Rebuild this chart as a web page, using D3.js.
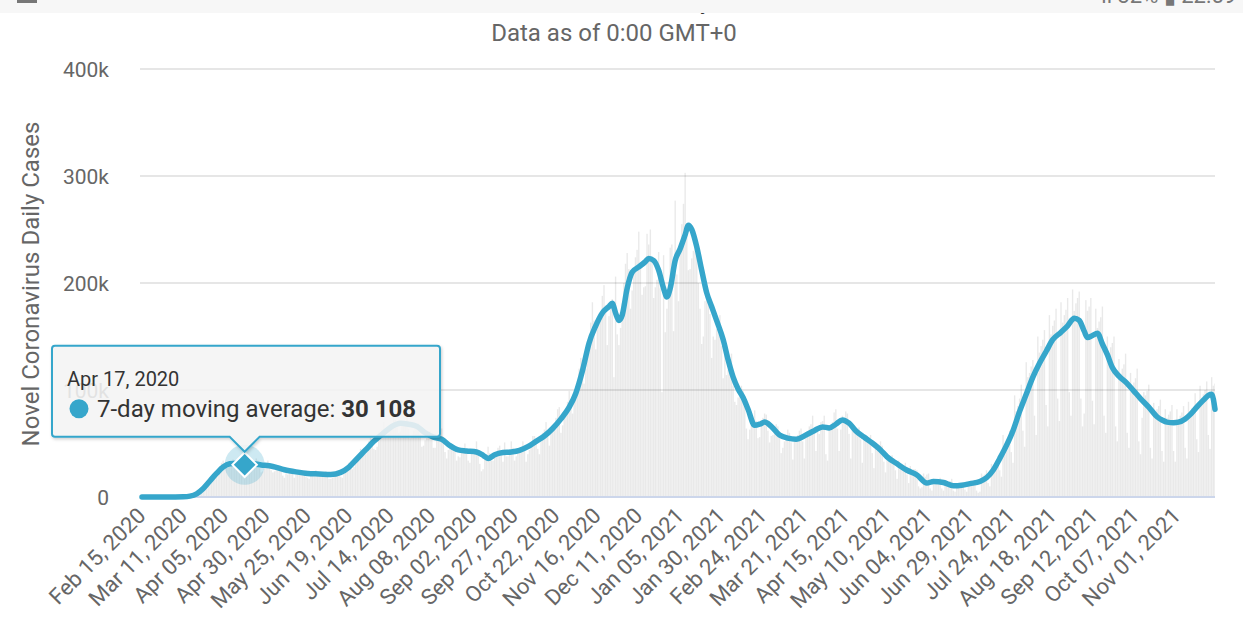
<!DOCTYPE html>
<html>
<head>
<meta charset="utf-8">
<script src="https://cdn.jsdelivr.net/npm/d3@7/dist/d3.min.js"></script>
<style>
  body { margin: 0; background: #fff; }
  svg { font-family: Roboto, 'Noto Sans', sans-serif; display: block; }
</style>
</head>
<body>
<svg id="chart" width="1243" height="634"></svg>
<script>
// daily new cases (thousands), one row per week, first day Sat 2020-02-15
const startDate = '2020-02-15'
const dailyCases = [
  0,0,0,0,0,0,0, 0,0,0,0,0,0,0, 0,0,0,0,0,0.1,0.1, 0.1,0.1,0.2,0.2,0.3,0.4,0.6,
  0.7,0.8,1,1.3,2,3.5,5, 6.5,8,9.5,10,12,17,18.5, 19.5,19,20,25,26,29,32, 34,26,29,29,31,33,35,
  31,27,26,26,29,31,32, 29,26,26,25,29,31,36, 34,27,23,24,27,29,34, 29,25,23,24,25,29,27,
  25,20,18,22,21,26,25, 24,18,21,21,21,22,25, 23,19,18,17,20,21,24, 25,20,20,21,19,21,24,
  22,17,17,18,21,23,24, 25,19,18,22,25,28,32, 33,26,28,34,37,39,45, 43,40,40,47,52,55,54,
  45,44,47,61,60,63,70, 63,58,59,65,67,76,72, 65,60,61,66,70,69,74, 64,55,56,62,67,66,69,
  58,47,48,53,55,58,62, 56,46,46,54,55,53,64, 51,42,36,44,47,45,48, 46,34,38,37,42,45,50,
  44,34,32,41,40,45,52, 43,31,24,26,35,38,47, 41,34,34,38,39,46,48, 44,33,51,38,38,44,52,
  46,34,38,45,41,46,52, 48,33,40,44,51,57,57, 52,45,40,52,60,63,70, 58,48,60,63,63,74,82,
  84,60,67,73,79,89,99, 83,78,89,92,106,120,130, 128,106,120,140,145,163,182, 165,138,159,162,173,188,198,
  179,142,169,178,185,112,206, 152,142,158,181,200,218,228, 213,176,193,211,224,231,248, 219,189,196,197,246,236,250,
  221,186,196,203,229,195,98, 226,154,176,201,233,236,155, 277,208,183,235,255,274,303, 256,212,213,223,230,235,240,
  200,176,143,150,183,190,189, 171,130,150,147,157,165,170, 141,111,134,114,119,123,134, 104,89,86,93,95,104,99,
  86,64,54,63,69,72,81, 71,55,56,72,74,78,77, 62,51,57,58,66,68,66, 58,41,46,52,58,63,60,
  51,35,53,54,58,62,64, 52,36,55,56,66,68,76, 62,43,66,59,70,71,76, 40,34,67,66,70,79,82,
  64,43,63,76,73,80,78, 59,36,66,61,65,64,65, 54,32,55,52,57,56,58, 41,27,51,43,47,52,48,
  33,23,41,35,37,39,36, 25,17,34,28,31,30,32, 21,13,29,23,26,26,25, 10,8,9,22,19,21,22,
  8,6,17,15,16,16,18, 8,6,16,14,14,15,17, 6,5,13,11,12,12,14, 7,5,14,13,14,15,16,
  6,4,5,22,20,21,25, 13,10,31,27,29,32,36, 25,19,58,48,51,55,62, 42,32,95,80,85,92,105,
  62,47,126,112,116,122,128, 76,58,150,135,141,147,156, 86,66,170,152,160,165,176, 92,71,182,163,170,175,186,
  98,76,194,174,181,186,192, 92,66,78,184,174,178,186, 90,68,176,158,164,168,178, 76,60,150,134,140,144,150,
  66,52,129,115,120,124,134, 60,46,116,104,107,111,120, 52,40,74,98,95,99,105, 46,36,88,78,82,85,91,
  43,33,82,74,77,80,86, 43,33,82,73,76,79,85, 46,36,89,80,83,80,97, 54,42,104,93,96,100,108,
  58,45,112,104,106
]

// 7-day moving average (thousands)
const maDates = [
  '2020-02-15','2020-03-01','2020-03-11','2020-03-15','2020-03-19','2020-03-23','2020-03-27','2020-03-31',
  '2020-04-04','2020-04-08','2020-04-12','2020-04-17','2020-04-22','2020-04-27','2020-05-04','2020-05-11',
  '2020-05-18','2020-05-25','2020-06-01','2020-06-08','2020-06-14','2020-06-19','2020-06-24','2020-06-29',
  '2020-07-04','2020-07-10','2020-07-15','2020-07-20','2020-07-25','2020-07-30','2020-08-04','2020-08-09',
  '2020-08-14','2020-08-19','2020-08-24','2020-08-29','2020-09-04','2020-09-08','2020-09-11','2020-09-15',
  '2020-09-20','2020-09-25','2020-09-30','2020-10-05','2020-10-10','2020-10-15','2020-10-20','2020-10-25',
  '2020-10-30','2020-11-03','2020-11-07','2020-11-11','2020-11-15','2020-11-19','2020-11-23','2020-11-25',
  '2020-11-27','2020-11-29','2020-12-01','2020-12-04','2020-12-07','2020-12-11','2020-12-15','2020-12-17',
  '2020-12-20','2020-12-23','2020-12-26','2020-12-28','2020-12-30','2021-01-02','2021-01-05','2021-01-08',
  '2021-01-10','2021-01-12','2021-01-15','2021-01-18','2021-01-21','2021-01-24','2021-01-27','2021-01-31',
  '2021-02-03','2021-02-06','2021-02-09','2021-02-12','2021-02-15','2021-02-19','2021-02-22','2021-02-25',
  '2021-03-01','2021-03-06','2021-03-11','2021-03-16','2021-03-22','2021-03-27','2021-04-01','2021-04-05',
  '2021-04-09','2021-04-13','2021-04-17','2021-04-21','2021-04-26','2021-05-01','2021-05-06','2021-05-10',
  '2021-05-16','2021-05-22','2021-05-28','2021-06-03','2021-06-07','2021-06-13','2021-06-19','2021-06-24',
  '2021-06-29','2021-07-05','2021-07-09','2021-07-13','2021-07-17','2021-07-21','2021-07-25','2021-07-29',
  '2021-08-02','2021-08-06','2021-08-10','2021-08-14','2021-08-18','2021-08-23','2021-08-27','2021-08-31',
  '2021-09-03','2021-09-06','2021-09-08','2021-09-11','2021-09-14','2021-09-17','2021-09-20','2021-09-23',
  '2021-09-27','2021-10-02','2021-10-06','2021-10-10','2021-10-15','2021-10-20','2021-10-23','2021-10-26',
  '2021-10-30','2021-11-02','2021-11-06','2021-11-09','2021-11-13','2021-11-17','2021-11-20','2021-11-22',
  '2021-11-24'
]
const maValues = [
  0,0.01,0.2,0.8,3,8,15,22,
  28,31,31.5,30.108,31,30,28.5,25.5,
  23.5,22,21.5,21,23,28,36,44,
  52,60,66,69,68,66,60,56,
  54,48,44,43,42,39,36,39.5,
  41.5,42,43.5,47,52,57,64,73,
  84,97,118,144,160,172,178,181,
  172,165,170,195,210,215,220,223,
  221,212,195,187,195,221,232,245,
  254,250,234,212,191,178,165,147,
  128,112,101,93,82,67,68,70,
  66,58,55,54,58,62,65.5,64.5,
  68,72,69,62,56,50.5,44,37.5,
  31,25,20.5,13,14.5,13.5,10.5,11,
  12.5,14.5,18,25,36,48,62,80,
  96,112,125,136,147,154,160,167,
  165,155,149,151,153,143,133,121,
  113,106,99,92,84,75,72,70,
  69.5,70,73,77,84,90.5,95,96,
  82
]

const yTicks = [0, 100000, 200000, 300000, 400000]
const xTickLabels = [
  'Feb 15, 2020','Mar 11, 2020','Apr 05, 2020','Apr 30, 2020','May 25, 2020','Jun 19, 2020',
  'Jul 14, 2020','Aug 08, 2020','Sep 02, 2020','Sep 27, 2020','Oct 22, 2020','Nov 16, 2020',
  'Dec 11, 2020','Jan 05, 2021','Jan 30, 2021','Feb 24, 2021','Mar 21, 2021','Apr 15, 2021',
  'May 10, 2021','Jun 04, 2021','Jun 29, 2021','Jul 24, 2021','Aug 18, 2021','Sep 12, 2021',
  'Oct 07, 2021','Nov 01, 2021'
]
const tooltipDate = '2020-04-17'
const tooltipLabel = '7-day moving average'

const lineColor = '#36a6cb'
const plot = { left: 142, right: 1215, top: 69, bottom: 497 }

const parse = d3.timeParse('%Y-%m-%d')
const parseTick = d3.timeParse('%b %d, %Y')
const start = parse(startDate)

const bars = dailyCases.map((v, i) => ({ date: d3.timeDay.offset(start, i), value: v * 1000 }))
const ma = maDates.map((d, i) => ({ date: parse(d), value: maValues[i] * 1000 }))

const x = d3
  .scaleTime()
  .domain([start, bars[bars.length - 1].date])
  .range([plot.left, plot.right])

const y = d3
  .scaleLinear()
  .domain([0, 400000])
  .range([plot.bottom, plot.top])

const svg = d3.select('#chart')

const defs = svg.append('defs')
defs
  .append('clipPath')
  .attr('id', 'plotClip')
  .append('rect')
  .attr('x', plot.left)
  .attr('y', 0)
  .attr('width', plot.right - plot.left)
  .attr('height', plot.bottom + 2)

defs
  .append('filter')
  .attr('id', 'tipShadow')
  .attr('x', '-10%')
  .attr('y', '-10%')
  .attr('width', '120%')
  .attr('height', '130%')
  .append('feDropShadow')
  .attr('dx', 1)
  .attr('dy', 1.5)
  .attr('stdDeviation', 1.5)
  .attr('flood-color', '#000')
  .attr('flood-opacity', 0.2)

// partly hidden chart title under the top bar
svg
  .append('text')
  .attr('x', 621)
  .attr('y', 9)
  .attr('text-anchor', 'middle')
  .attr('font-size', 24)
  .attr('fill', '#333')
  .text('Novel Coronavirus Daily Cases')

svg
  .append('rect')
  .attr('x', 0)
  .attr('y', 0)
  .attr('width', 1243)
  .attr('height', 13)
  .attr('fill', '#f7f7f7')

svg
  .append('rect')
  .attr('x', 17)
  .attr('y', 0)
  .attr('width', 20)
  .attr('height', 3)
  .attr('fill', '#777')

svg
  .append('text')
  .attr('x', 1236)
  .attr('y', 3)
  .attr('text-anchor', 'end')
  .attr('font-size', 22)
  .attr('fill', '#777')
  .text('ıl 32% ▮ 22:59')

// subtitle
svg
  .append('text')
  .attr('x', 614)
  .attr('y', 41)
  .attr('text-anchor', 'middle')
  .attr('font-size', 24)
  .attr('fill', '#666')
  .text('Data as of 0:00 GMT+0')

// grid
svg
  .append('g')
  .selectAll('line')
  .data(yTicks.filter(d => d > 0))
  .enter()
  .append('line')
  .attr('x1', plot.left - 2)
  .attr('x2', plot.right)
  .attr('y1', d => y(d))
  .attr('y2', d => y(d))
  .attr('stroke', '#e6e6e6')
  .attr('stroke-width', 2)

svg
  .append('g')
  .selectAll('text')
  .data(yTicks)
  .enter()
  .append('text')
  .attr('x', 109)
  .attr('y', d => y(d) + 8)
  .attr('text-anchor', 'end')
  .attr('font-size', 21)
  .attr('fill', '#666')
  .text(d => (d === 0 ? '0' : d / 1000 + 'k'))

svg
  .append('text')
  .attr('transform', 'translate(39,284) rotate(-90)')
  .attr('text-anchor', 'middle')
  .attr('font-size', 24)
  .attr('fill', '#666')
  .text('Novel Coronavirus Daily Cases')

// daily bars
const barW = (x(d3.timeDay.offset(start, 1)) - x(start)) * 0.85
svg
  .append('g')
  .attr('clip-path', 'url(#plotClip)')
  .selectAll('rect')
  .data(bars)
  .enter()
  .append('rect')
  .attr('x', d => x(d.date) - barW / 2)
  .attr('width', barW)
  .attr('y', d => y(d.value))
  .attr('height', d => y(0) - y(d.value))
  .attr('fill', 'rgba(0,0,0,0.085)')

// x axis line
svg
  .append('line')
  .attr('x1', plot.left)
  .attr('x2', plot.right)
  .attr('y1', y(0))
  .attr('y2', y(0))
  .attr('stroke', '#ccd6eb')
  .attr('stroke-width', 2)

svg
  .append('g')
  .selectAll('text')
  .data(xTickLabels)
  .enter()
  .append('text')
  .attr('transform', d => `translate(${x(parseTick(d)) + 5},${y(0) + 20}) rotate(-45)`)
  .attr('text-anchor', 'end')
  .attr('font-size', 22)
  .attr('fill', '#666')
  .text(d => d)

// moving average line
const line = d3
  .line()
  .x(d => x(d.date))
  .y(d => y(d.value))
  .curve(d3.curveMonotoneX)

svg
  .append('path')
  .datum(ma)
  .attr('d', line)
  .attr('fill', 'none')
  .attr('stroke', lineColor)
  .attr('stroke-width', 5.5)
  .attr('stroke-linejoin', 'round')
  .attr('stroke-linecap', 'round')

// hovered point
const hover = ma.find(d => +d.date === +parse(tooltipDate))
const px = x(hover.date)
const py = y(hover.value)

svg
  .append('circle')
  .attr('cx', px)
  .attr('cy', py)
  .attr('r', 20)
  .attr('fill', lineColor)
  .attr('opacity', 0.25)

svg
  .append('path')
  .attr('d', d3.symbol().type(d3.symbolSquare).size(300)())
  .attr('transform', `translate(${px},${py}) rotate(45)`)
  .attr('fill', lineColor)
  .attr('stroke', '#fff')
  .attr('stroke-width', 2)

// tooltip
const box = { left: 52, right: 440, bottom: py - 28, height: 91 }
const boxTop = box.bottom - box.height
const tipPath = [
  `M${box.left + 3},${boxTop}`,
  `H${box.right - 3}`,
  `Q${box.right},${boxTop} ${box.right},${boxTop + 3}`,
  `V${box.bottom - 3}`,
  `Q${box.right},${box.bottom} ${box.right - 3},${box.bottom}`,
  `H${px + 15}`,
  `L${px},${box.bottom + 15}`,
  `L${px - 15},${box.bottom}`,
  `H${box.left + 3}`,
  `Q${box.left},${box.bottom} ${box.left},${box.bottom - 3}`,
  `V${boxTop + 3}`,
  `Q${box.left},${boxTop} ${box.left + 3},${boxTop}`,
  'Z'
].join(' ')

const tip = svg.append('g')
tip
  .append('path')
  .attr('d', tipPath)
  .attr('fill', 'rgba(247,247,247,0.85)')
  .attr('stroke', lineColor)
  .attr('stroke-width', 2)
  .attr('filter', 'url(#tipShadow)')

tip
  .append('text')
  .attr('x', box.left + 15)
  .attr('y', boxTop + 40)
  .attr('font-size', 20)
  .attr('fill', '#333')
  .text(d3.timeFormat('%b %d, %Y')(hover.date))

tip
  .append('circle')
  .attr('cx', box.left + 27)
  .attr('cy', boxTop + 63)
  .attr('r', 9.5)
  .attr('fill', lineColor)

const fmt = d3.formatLocale({ decimal: '.', thousands: ' ', grouping: [3], currency: ['', ''] }).format(',')
const body = tip
  .append('text')
  .attr('x', box.left + 45)
  .attr('y', boxTop + 71)
  .attr('font-size', 24)
  .attr('fill', '#333')
body.append('tspan').text(tooltipLabel + ': ')
body
  .append('tspan')
  .attr('font-weight', 'bold')
  .text(fmt(Math.round(hover.value)))
</script>
</body>
</html>
